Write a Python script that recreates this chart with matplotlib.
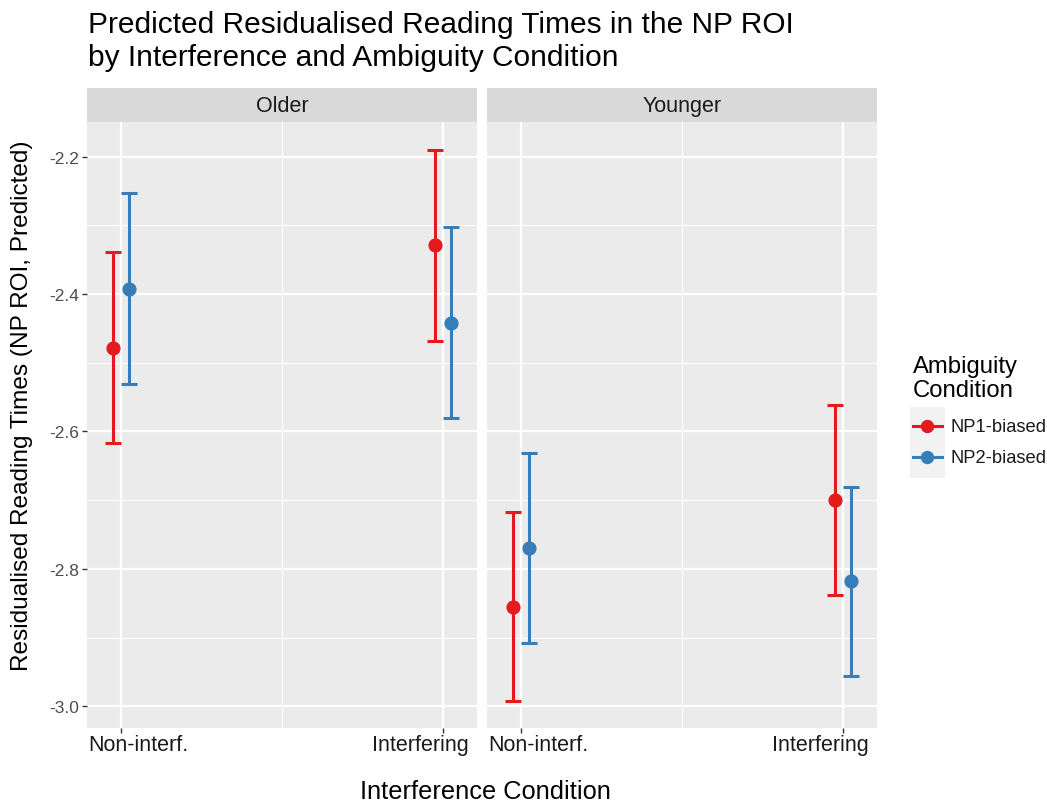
import matplotlib
matplotlib.use("Agg")
import matplotlib.pyplot as plt
from matplotlib.lines import Line2D
from matplotlib.patches import Rectangle

plt.rcParams['font.family'] = ['Liberation Sans', 'DejaVu Sans']

# ---- data ----
groups = ["Older", "Younger"]
interference = ["Non-interf.", "Interfering"]
ambiguity = ["NP1-biased", "NP2-biased"]
colors = ["#E41A1C", "#377EB8"]

older_np1_fit = [-2.479, -2.329]
older_np1_lo = [-2.617, -2.468]
older_np1_hi = [-2.339, -2.190]
older_np2_fit = [-2.392, -2.442]
older_np2_lo = [-2.531, -2.580]
older_np2_hi = [-2.253, -2.302]

younger_np1_fit = [-2.855, -2.700]
younger_np1_lo = [-2.992, -2.838]
younger_np1_hi = [-2.717, -2.562]
younger_np2_fit = [-2.770, -2.818]
younger_np2_lo = [-2.908, -2.956]
younger_np2_hi = [-2.632, -2.681]

yticks = [-3.0, -2.8, -2.6, -2.4, -2.2]
ytick_labels = ["-3.0", "-2.8", "-2.6", "-2.4", "-2.2"]

panel_data = {
    "Older": [(older_np1_fit, older_np1_lo, older_np1_hi),
              (older_np2_fit, older_np2_lo, older_np2_hi)],
    "Younger": [(younger_np1_fit, younger_np1_lo, younger_np1_hi),
                (younger_np2_fit, younger_np2_lo, younger_np2_hi)],
}

W, H = 1047, 803
fig = plt.figure(figsize=(W / 100, H / 100), dpi=100)

def fx(x):
    return x / W

def fy(y):
    return 1 - y / H

def px_axes(x0, y0, x1, y1):
    return fig.add_axes([x0 / W, 1 - y1 / H, (x1 - x0) / W, (y1 - y0) / H])

panel_x = [(87.3, 476.7), (487.3, 876.7)]
ptop, pbot = 123.3, 729.3
strip_top = 89.3

all_vals = older_np1_lo + older_np1_hi + older_np2_lo + older_np2_hi + \
    younger_np1_lo + younger_np1_hi + younger_np2_lo + younger_np2_hi
vmin, vmax = min(all_vals), max(all_vals)
pad = 0.05 * (vmax - vmin)
ylim = (vmin - pad, vmax + pad)

dodge = [-0.025, 0.025]
xpos = [1, 2]
xlim = (0.896, 2.104)

for gi, g in enumerate(groups):
    x0, x1 = panel_x[gi]
    ax = px_axes(x0, ptop, x1, pbot)
    ax.set_facecolor("#EBEBEB")
    for s in ax.spines.values():
        s.set_visible(False)
    ax.set_xlim(*xlim)
    ax.set_ylim(*ylim)
    # grid
    for yv in yticks:
        ax.axhline(yv, color="white", lw=1.6, zorder=1)
    for yv in [-2.9, -2.7, -2.5, -2.3]:
        ax.axhline(yv, color="white", lw=0.8, zorder=1)
    for xv in xpos:
        ax.axvline(xv, color="white", lw=1.6, zorder=1)
    ax.axvline(1.5, color="white", lw=0.8, zorder=1)

    for ai in range(2):
        fit, lo, hi = panel_data[g][ai]
        xs = [x + dodge[ai] for x in xpos]
        yerr = [[f - l for f, l in zip(fit, lo)], [h - f for f, h in zip(fit, hi)]]
        ax.errorbar(xs, fit, yerr=yerr, fmt="o", color=colors[ai], ms=9.2,
                    elinewidth=2.2, capsize=5.8, capthick=2.2, zorder=3)

    ax.set_xticks(xpos)
    ax.set_xticklabels([])
    ax.tick_params(axis="x", length=3.3, width=1.0, color="#333333")
    # x tick labels (positioned like the reference)
    ax.text(1.0 / (x1 - x0), -16.5 / (pbot - ptop), interference[0], transform=ax.transAxes,
            ha="left", va="center", fontsize=15.5, color="#1A1A1A")
    ax.text(1 - 8.0 / (x1 - x0), -16.5 / (pbot - ptop), interference[1], transform=ax.transAxes,
            ha="right", va="center", fontsize=15.5, color="#1A1A1A")
    ax.set_yticks(yticks)
    if gi == 0:
        ax.set_yticklabels(ytick_labels, fontsize=12.5, color="#4D4D4D")
        ax.tick_params(axis="y", length=3.3, width=1.0, color="#333333", pad=2.5)
    else:
        ax.tick_params(axis="y", length=0, labelleft=False)

    # strip
    sax = px_axes(x0, strip_top, x1, ptop)
    sax.set_xlim(0, 1)
    sax.set_ylim(0, 1)
    sax.axis("off")
    sax.add_patch(Rectangle((0, 0), 1, 1, facecolor="#D9D9D9", edgecolor="none"))
    sax.text(0.5, 0.5, g, ha="center", va="center", fontsize=15.5, color="#1A1A1A")

# titles
fig.text(fx(88), fy(33), "Predicted Residualised Reading Times in the NP ROI",
         ha="left", va="baseline", fontsize=21.5, color="black")
fig.text(fx(88), fy(65.5), "by Interference and Ambiguity Condition",
         ha="left", va="baseline", fontsize=21.5, color="black")
fig.text(fx(485), fy(799), "Interference Condition", ha="center", va="baseline",
         fontsize=18.3, color="black")
fig.text(fx(22), fy(406), "Residualised Reading Times (NP ROI, Predicted)", ha="center",
         va="center", rotation=90, fontsize=17.6, color="black")

# legend
fig.text(fx(913), fy(373.3), "Ambiguity", ha="left", va="baseline",
         fontsize=17.2, color="black")
fig.text(fx(913), fy(396.7), "Condition", ha="left", va="baseline",
         fontsize=17.2, color="black")
lax = px_axes(910, 408.3, 945.5, 479.3)
lax.set_xlim(0, 1)
lax.set_ylim(0, 1)
lax.axis("off")
lax.add_patch(Rectangle((0, 0), 1, 1, facecolor="#F2F2F2", edgecolor="none"))
for ai, yy in enumerate([427.3, 458.3]):
    yf = (479.3 - yy) / 71
    lax.add_line(Line2D([0.09, 0.89], [yf, yf], color=colors[ai], lw=2.2))
    lax.plot([0.49], [yf], "o", color=colors[ai], ms=8.6)
    fig.text(fx(951), fy(yy), ambiguity[ai], ha="left", va="center",
             fontsize=13.2, color="#1A1A1A")

fig.savefig("out.png", dpi=100)
